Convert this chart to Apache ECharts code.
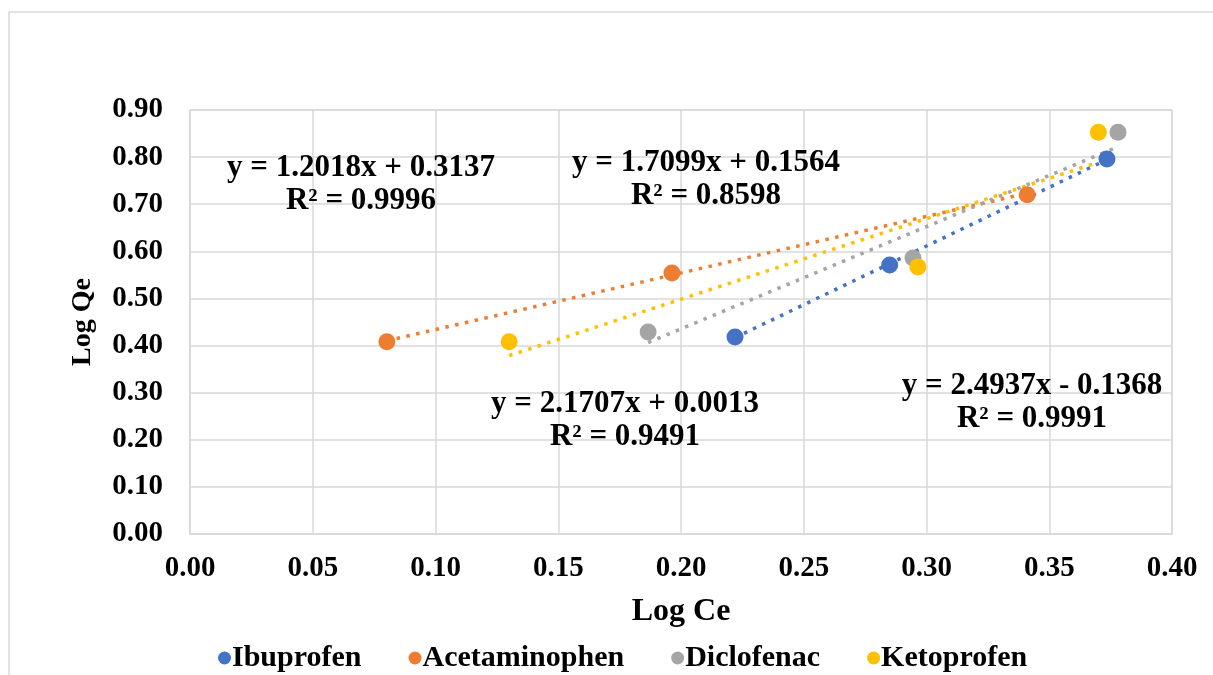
<!DOCTYPE html>
<html>
<head>
<meta charset="utf-8">
<script src="https://cdn.jsdelivr.net/npm/echarts@6/dist/echarts.min.js"></script>
<style>
html,body{margin:0;padding:0;background:#fff;}
#chart{width:1213px;height:675px;}
</style>
</head>
<body>
<div id="chart"></div>
<script>
// ---- data ----
const seriesNames = ['Ibuprofen', 'Acetaminophen', 'Diclofenac', 'Ketoprofen'];
const ibuprofenX = [0.222, 0.285, 0.3735];
const ibuprofenY = [0.418, 0.571, 0.796];
const acetaminophenX = [0.0802, 0.1963, 0.341];
const acetaminophenY = [0.408, 0.554, 0.720];
const diclofenacX = [0.1866, 0.2945, 0.378];
const diclofenacY = [0.429, 0.586, 0.853];
const ketoprofenX = [0.130, 0.2965, 0.370];
const ketoprofenY = [0.408, 0.567, 0.853];
const slopes = [2.4937, 1.2018, 2.1707, 1.7099];
const intercepts = [-0.1368, 0.3137, 0.0013, 0.1564];
const equationLabels = [
  'y = 2.4937x - 0.1368\nR² = 0.9991',
  'y = 1.2018x + 0.3137\nR² = 0.9996',
  'y = 2.1707x + 0.0013\nR² = 0.9491',
  'y = 1.7099x + 0.1564\nR² = 0.8598'
];
const xTicks = [0, 0.05, 0.10, 0.15, 0.20, 0.25, 0.30, 0.35, 0.40];
const yTicks = [0, 0.1, 0.2, 0.3, 0.4, 0.5, 0.6, 0.7, 0.8, 0.9];

const colors = ['#4472C4', '#ED7D31', '#A5A5A5', '#FFC000'];
const FONT = '"Liberation Serif", "Times New Roman", serif';
const allX = [ibuprofenX, acetaminophenX, diclofenacX, ketoprofenX];
const allY = [ibuprofenY, acetaminophenY, diclofenacY, ketoprofenY];

const series = [];
// trendlines
allX.forEach((xs, i) => {
  const x0 = Math.min(...xs), x1 = Math.max(...xs);
  series.push({
    name: seriesNames[i] + ' trend',
    type: 'line',
    data: [[x0, slopes[i] * x0 + intercepts[i]], [x1, slopes[i] * x1 + intercepts[i]]],
    symbol: 'none',
    silent: true,
    z: 2,
    lineStyle: { color: colors[i], width: 3.5, type: [3.5, 6.5], cap: 'butt' }
  });
});
// scatter
allX.forEach((xs, i) => {
  series.push({
    name: seriesNames[i],
    type: 'scatter',
    data: xs.map((x, j) => [x, allY[i][j]]),
    symbol: 'circle',
    symbolSize: 17,
    z: 3,
    itemStyle: { color: colors[i], opacity: 1 }
  });
});

// equation label positions (pixel layout)
const labelPos = [[1032, 402], [361, 184], [625, 420], [706, 179]];
const graphics = [
  { type: 'rect', shape: { x: 9, y: 12, width: 1240, height: 700 }, style: { fill: 'none', stroke: '#d9d9d9', lineWidth: 1.5 }, silent: true, z: -1 }
];
equationLabels.forEach((t, i) => {
  graphics.push({
    type: 'text', x: labelPos[i][0], y: labelPos[i][1], z: 10,
    style: { text: t, font: 'bold 31px ' + FONT, fill: '#000', align: 'center', verticalAlign: 'middle', lineHeight: 33 }
  });
});

const chart = echarts.init(document.getElementById('chart'));
chart.setOption({
  animation: false,
  backgroundColor: '#fff',
  color: colors,
  grid: { left: 190, right: 41, top: 110, bottom: 141, show: true, borderColor: '#d9d9d9', borderWidth: 1.5 },
  xAxis: {
    type: 'value', min: xTicks[0], max: xTicks[xTicks.length - 1], interval: 0.05,
    name: 'Log Ce', nameLocation: 'middle', nameGap: 62,
    nameTextStyle: { fontFamily: FONT, fontWeight: 'bold', fontSize: 32, color: '#000' },
    axisLine: { show: true, lineStyle: { color: '#d9d9d9', width: 1.5 } },
    axisTick: { show: false },
    splitLine: { show: true, lineStyle: { color: '#d9d9d9', width: 1.5 } },
    axisLabel: { margin: 20, fontFamily: FONT, fontWeight: 'bold', fontSize: 29, color: '#000', formatter: v => v.toFixed(2) }
  },
  yAxis: {
    type: 'value', min: yTicks[0], max: yTicks[yTicks.length - 1], interval: 0.1,
    name: 'Log Qe', nameLocation: 'middle', nameGap: 93,
    nameTextStyle: { fontFamily: FONT, fontWeight: 'bold', fontSize: 28, color: '#000' },
    axisLine: { show: true, lineStyle: { color: '#d9d9d9', width: 1.5 } },
    axisTick: { show: false },
    splitLine: { show: true, lineStyle: { color: '#d9d9d9', width: 1.5 } },
    axisLabel: { margin: 27, fontFamily: FONT, fontWeight: 'bold', fontSize: 29, color: '#000', formatter: v => v.toFixed(2) }
  },
  legend: {
    data: seriesNames.map(n => ({ name: n, icon: 'circle' })),
    left: 213, top: 638,
    itemWidth: 13, itemHeight: 13, itemGap: 47,
    textStyle: { fontFamily: FONT, fontWeight: 'bold', fontSize: 30, color: '#000', padding: [0, 0, 0, -4] }
  },
  graphic: graphics,
  series: series
});
</script>
</body>
</html>
